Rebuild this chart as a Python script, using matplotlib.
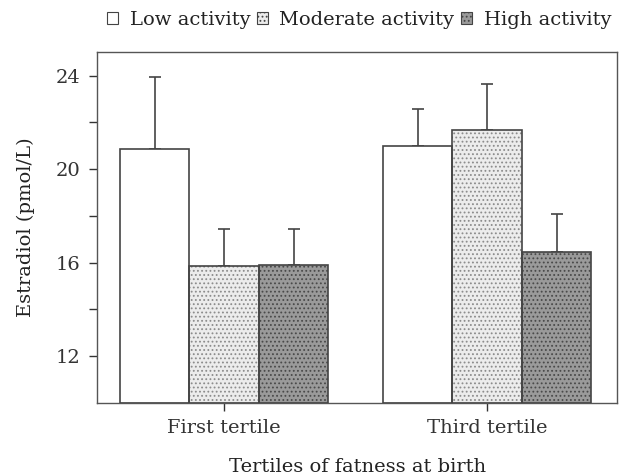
import numpy as np
import matplotlib.pyplot as plt
from matplotlib.patches import Patch

plt.rcParams['font.family'] = ['DejaVu Serif']
plt.rcParams['hatch.linewidth'] = 0.8

groups = ["First tertile", "Third tertile"]
levels = ["Low activity", "Moderate activity", "High activity"]
means = {
    "Low activity": [20.85, 20.98],
    "Moderate activity": [15.84, 21.66],
    "High activity": [15.91, 16.44],
}
errors = {
    "Low activity": [3.08, 1.61],
    "Moderate activity": [1.60, 1.97],
    "High activity": [1.53, 1.66],
}

faces = {"Low activity": "white", "Moderate activity": "#ececec", "High activity": "#9a9a9a"}
hatches = {"Low activity": "", "Moderate activity": "....", "High activity": "...."}
hcol = {"Low activity": "#555555", "Moderate activity": "#8c8c8c", "High activity": "#4a4a4a"}

fig, ax = plt.subplots(figsize=(6.21, 4.75), dpi=100)
fig.subplots_adjust(left=0.156, right=0.994, top=0.89, bottom=0.152)

x = np.arange(len(groups))
w = 0.264
for i, lv in enumerate(levels):
    pos = x + (i - 1) * w
    ax.bar(pos, np.array(means[lv]) - 10, w, bottom=10, color=faces[lv],
           edgecolor=hcol[lv], hatch=hatches[lv], linewidth=0, zorder=2)
    ax.bar(pos, np.array(means[lv]) - 10, w, bottom=10, color="none",
           edgecolor="#444444", linewidth=1.2, zorder=3)
    ax.errorbar(pos, means[lv], yerr=[np.zeros(2), errors[lv]], fmt="none",
                ecolor="#444444", elinewidth=1.2, capsize=4, capthick=1.2, zorder=1)

ax.set_ylim(10, 25)
ax.set_xlim(-0.483, 1.494)
ax.set_yticks([12, 16, 20, 24])
ax.set_yticks([14, 18, 22], minor=True)
ax.set_xticks(x)
ax.set_xticklabels(groups)
ax.tick_params(labelsize=14, colors="#333333", length=6, width=1, pad=6)
ax.tick_params(axis="y", which="minor", colors="#333333", length=6, width=1)
for s in ax.spines.values():
    s.set_color("#555555")
    s.set_linewidth(1.0)

ax.set_ylabel("Estradiol (pmol/L)", fontsize=14, color="#222222", labelpad=15)
ax.set_xlabel("Tertiles of fatness at birth", fontsize=14, color="#222222", labelpad=15)

handles = [Patch(facecolor=faces[lv], edgecolor="#444444", hatch=hatches[lv], linewidth=0.8)
           for lv in levels]
fig.legend(handles, levels, loc="center right", bbox_to_anchor=(0.984, 1 - 20 / 475), ncol=3,
           frameon=False, fontsize=14, handlelength=0.55, handleheight=0.55,
           handletextpad=0.6, columnspacing=0.35, borderpad=0, borderaxespad=0,
           labelcolor="#222222")

fig.savefig("out.png", dpi=100)
